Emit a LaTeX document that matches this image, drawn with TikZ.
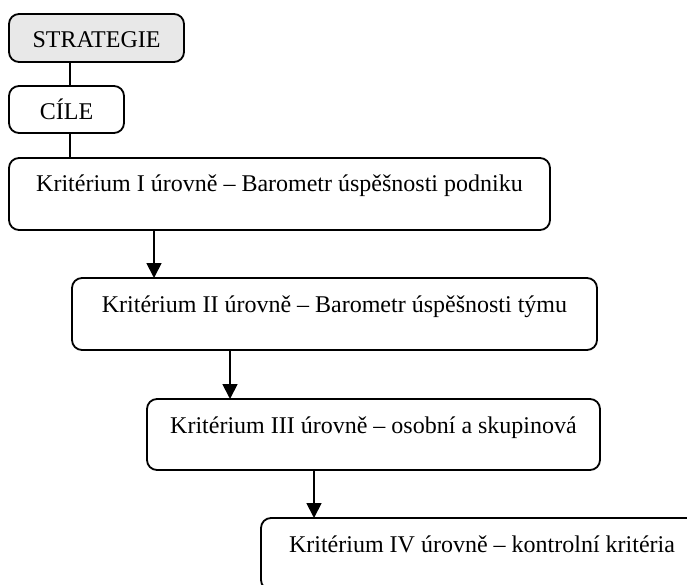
\documentclass[tikz,border=0pt]{standalone}
\usepackage{fontspec}
\setmainfont{Liberation Serif}
\usetikzlibrary{arrows.meta}
\definecolor{stratfill}{RGB}{232,232,232}
\begin{document}
\begin{tikzpicture}[x=1pt,y=-1pt,
  box/.style={draw, line width=1.8pt, rounded corners=10pt, inner sep=0pt,
              outer sep=0pt, anchor=north west},
  lbl/.style={anchor=base, inner sep=0pt, font=\fontsize{24}{28}\selectfont},
  link/.style={line width=1.8pt},
  flow/.style={line width=1.8pt, -{Triangle[width=15pt,length=15pt]}}]
\useasboundingbox (0,0) rectangle (687,585);
\clip (0,0) rectangle (687,585);

% boxes
\node[box, fill=stratfill, minimum width=175pt, minimum height=48pt] (strat) at (9,14) {};
\node[box, minimum width=115pt, minimum height=47pt] (cile) at (9,86) {};
\node[box, minimum width=541pt, minimum height=72pt] (k1) at (9,158) {};
\node[box, minimum width=525pt, minimum height=72pt] (k2) at (72,278) {};
\node[box, minimum width=453pt, minimum height=71pt] (k3) at (147,399) {};
\node[box, minimum width=442pt, minimum height=72pt] (k4) at (261,518) {};

% labels
\node[lbl] (tstrat) at ([yshift=-34pt]strat.north) {STRATEGIE};
\node[lbl] (tcile) at ([yshift=-34pt]cile.north) {CÍLE};
\node[lbl] (tk1) at ([yshift=-34pt]k1.north) {Kritérium I úrovně – Barometr úspěšnosti podniku};
\node[lbl] (tk2) at ([yshift=-34pt]k2.north) {Kritérium II úrovně – Barometr úspěšnosti týmu};
\node[lbl] (tk3) at ([yshift=-34pt]k3.north) {Kritérium III úrovně – osobní a skupinová};
\node[lbl] (tk4) at ([yshift=-34pt]k4.north) {Kritérium IV úrovně – kontrolní kritéria};

% plain links
\draw[link] ([xshift=61pt]strat.south west) -- ([xshift=61pt]cile.north west);
\draw[link] ([xshift=61pt]cile.south west) -- ([xshift=61pt]k1.north west);

% arrows between levels
\draw[flow] ([xshift=145pt]k1.south west) -- ([xshift=145pt]k1.south west |- k2.north);
\draw[flow] ([xshift=158pt]k2.south west) -- ([xshift=158pt]k2.south west |- k3.north);
\draw[flow] ([xshift=167pt]k3.south west) -- ([xshift=167pt]k3.south west |- k4.north);
\end{tikzpicture}
\end{document}
